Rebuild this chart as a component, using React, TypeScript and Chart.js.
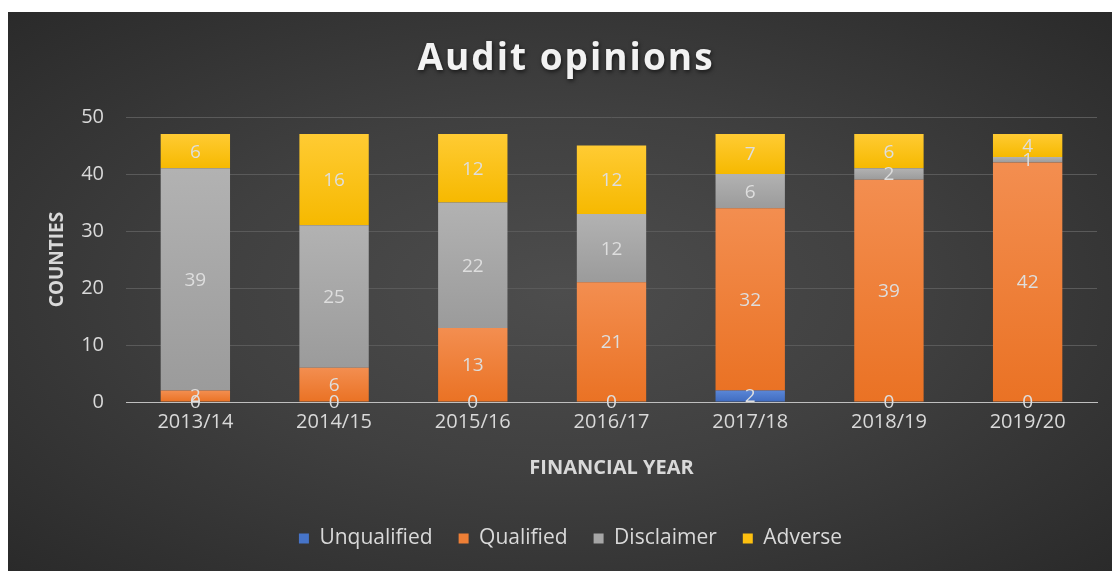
import React, { useEffect, useRef } from "react";
import { Chart, registerables } from "chart.js";

Chart.register(...registerables);

const categories = ["2013/14", "2014/15", "2015/16", "2016/17", "2017/18", "2018/19", "2019/20"];
const unqualified = [0, 0, 0, 0, 2, 0, 0];
const qualified = [2, 6, 13, 21, 32, 39, 42];
const disclaimer = [39, 25, 22, 12, 6, 2, 1];
const adverse = [6, 16, 12, 12, 7, 6, 4];
const titleText = "Audit opinions";
const yTitle = "COUNTIES";
const xTitle = "FINANCIAL YEAR";

const FONT = "'Open Sans', 'DejaVu Sans', sans-serif";

const seriesColors: [string, string, string][] = [
  ["#5a86d6", "#3f6bc0", "#4674c8"],
  ["#f38e50", "#ea7224", "#ee7f36"],
  ["#b2b2b2", "#9b9b9b", "#a6a6a6"],
  ["#ffcb33", "#f6b900", "#fdc010"],
];

function segFill(di: number) {
  return (c: any) => {
    const [top, bottom, solid] = seriesColors[di];
    const chart = c.chart;
    const ys = chart.scales && chart.scales.y;
    if (!ys || !chart.chartArea || c.dataIndex === undefined) return solid;
    const all = chart.data.datasets;
    let start = 0;
    for (let k = 0; k < di; k++) start += all[k].data[c.dataIndex];
    const end = start + all[di].data[c.dataIndex];
    const y0 = ys.getPixelForValue(end);
    const y1 = ys.getPixelForValue(start);
    if (!isFinite(y0) || !isFinite(y1) || y1 - y0 < 1) return solid;
    const g = chart.ctx.createLinearGradient(0, y0, 0, y1);
    g.addColorStop(0, top);
    g.addColorStop(1, bottom);
    return g;
  };
}

const labelPlugin = {
  id: "segLabels",
  afterDatasetsDraw(chart: any) {
    const ctx = chart.ctx;
    ctx.save();
    ctx.font = `19px ${FONT}`;
    ctx.fillStyle = "#dedede";
    ctx.textAlign = "center";
    ctx.textBaseline = "middle";
    chart.data.datasets.forEach((ds: any, di: number) => {
      const meta = chart.getDatasetMeta(di);
      meta.data.forEach((bar: any, i: number) => {
        const v = ds.data[i];
        const p = bar.getProps(["x", "y", "base"], true);
        const y = (p.y + p.base) / 2;
        ctx.fillText(String(v), p.x, y + 1);
      });
    });
    ctx.restore();
  },
};

const titlePlugin = {
  id: "shadowTitle",
  afterDraw(chart: any) {
    const ctx = chart.ctx;
    ctx.save();
    ctx.font = `bold 37px ${FONT}`;
    try {
      (ctx as any).letterSpacing = "2px";
    } catch (e) {}
    ctx.textAlign = "center";
    ctx.textBaseline = "alphabetic";
    ctx.shadowColor = "rgba(0,0,0,0.6)";
    ctx.shadowBlur = 4;
    ctx.shadowOffsetX = 1;
    ctx.shadowOffsetY = 2;
    ctx.fillStyle = "#f2f2f2";
    ctx.fillText(titleText, 558, 58);
    ctx.restore();
  },
};

const legendShift = {
  id: "legendShift",
  afterLayout(chart: any) {
    const lg = chart.legend;
    if (lg) {
      lg.left += 18;
      lg.right += 18;
    }
  },
};

export default function App() {
  const ref = useRef<HTMLCanvasElement>(null);
  useEffect(() => {
    if (!ref.current) return;
    const chart = new Chart(ref.current, {
      type: "bar",
      data: {
        labels: categories,
        datasets: [
          { label: "Unqualified", data: unqualified, backgroundColor: segFill(0) },
          { label: "Qualified", data: qualified, backgroundColor: segFill(1) },
          { label: "Disclaimer", data: disclaimer, backgroundColor: segFill(2) },
          { label: "Adverse", data: adverse, backgroundColor: segFill(3) },
        ],
      },
      options: {
        animation: false,
        responsive: false,
        maintainAspectRatio: false,
        layout: { padding: { top: 105, left: 0, right: 15, bottom: 12 } },
        datasets: { bar: { categoryPercentage: 1, barPercentage: 0.5 } },
        plugins: {
          title: { display: false },
          tooltip: { enabled: false },
          legend: {
            position: "bottom",
            labels: {
              color: "#d9d9d9",
              font: { family: FONT, size: 21 },
              boxWidth: 10,
              boxHeight: 10,
              padding: 26,
              generateLabels: (chart: any) =>
                chart.data.datasets.map((ds: any, i: number) => ({
                  text: ds.label,
                  fillStyle: seriesColors[i][2],
                  strokeStyle: seriesColors[i][2],
                  lineWidth: 0,
                  fontColor: "#d9d9d9",
                  hidden: false,
                  datasetIndex: i,
                })),
            },
          },
        },
        scales: {
          x: {
            stacked: true,
            grid: { display: false, drawTicks: false },
            border: { display: true, color: "#bfbfbf", width: 1 },
            ticks: { color: "#d9d9d9", font: { family: FONT, size: 20 }, padding: 8 },
            title: {
              display: true,
              text: xTitle,
              color: "#d9d9d9",
              font: { family: FONT, size: 20, weight: "bold" },
              padding: { top: 10, bottom: 22 },
            },
            afterFit(scale: any) {
              scale.height = 100;
            },
          },
          y: {
            stacked: true,
            min: 0,
            max: 50,
            ticks: { stepSize: 10, color: "#d9d9d9", font: { family: FONT, size: 20 }, padding: 22 },
            grid: {
              drawTicks: false,
              color: (c: any) => (c.tick && c.tick.value === 0 ? "#bfbfbf" : "#5a5a5a"),
              lineWidth: 1,
            },
            border: { display: false },
            title: {
              display: true,
              text: yTitle,
              color: "#d9d9d9",
              font: { family: FONT, size: 19, weight: "bold" },
              padding: { top: 38, bottom: 0 },
            },
            afterFit(scale: any) {
              scale.width = 118;
            },
          },
        },
      },
      plugins: [labelPlugin, titlePlugin, legendShift],
    });
    return () => chart.destroy();
  }, []);
  return (
    <div
      style={{
        position: "fixed",
        left: 8,
        top: 12,
        width: 1104,
        height: 559,
        background: "radial-gradient(ellipse at 50% 50%, #4d4d4d 0%, #404040 45%, #2a2a2a 100%)",
      }}
    >
      <canvas ref={ref} width={1104} height={559} style={{ display: "block" }} />
    </div>
  );
}
